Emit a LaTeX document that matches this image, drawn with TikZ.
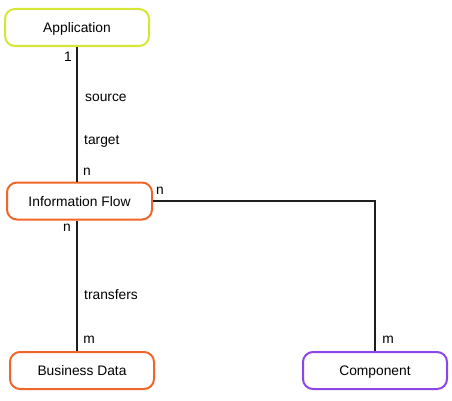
\documentclass[tikz,border=0pt]{standalone}
\usepackage{fontspec}
\setmainfont{Liberation Sans}
\definecolor{cyel}{RGB}{214,230,52}
\definecolor{corg}{RGB}{240,102,40}
\definecolor{cpur}{RGB}{140,70,232}
\definecolor{cline}{RGB}{30,30,30}
\begin{document}
\begin{tikzpicture}[x=1pt,y=1pt,
  entity/.style={draw, line width=2pt, rounded corners=10pt, minimum width=144pt, minimum height=37pt, inner sep=0pt, text height=10pt, text depth=0pt, font=\fontsize{13.8}{16}\selectfont, fill=white},
  conn/.style={draw=cline, line width=1.8pt},
  lbl/.style={inner sep=0pt, font=\fontsize{13.8}{16}\selectfont}]
\useasboundingbox (0,0) rectangle (452,400);
\node[entity, draw=cyel] (app) at (77,372.5) {Application};
\node[entity, draw=corg, minimum width=145pt] (info) at (79.5,199) {Information Flow};
\node[entity, draw=corg] (bd) at (82,29.5) {Business Data};
\node[entity, draw=cpur] (comp) at (375,29.5) {Component};
\coordinate (x1) at (77,0);
\draw[conn] (app.south -| x1) -- (info.north -| x1);
\draw[conn] (info.south -| x1) -- (bd.north -| x1);
\draw[conn] (info.east) -- (comp.north |- info.east) -- (comp.north);
\node[lbl] (l1) at (68,343) {1};
\node[lbl, anchor=west] (ls) at (85,302.5) {source};
\node[lbl, anchor=west] (lt) at (84,258.5) {target};
\node[lbl] (ln1) at (87,228) {n};
\node[lbl] (ln2) at (160,209) {n};
\node[lbl] (ln3) at (67,172) {n};
\node[lbl, anchor=west] (ltr) at (84,105) {transfers};
\node[lbl] (lm1) at (89,60) {m};
\node[lbl] (lm2) at (388,60) {m};
\end{tikzpicture}
\end{document}
